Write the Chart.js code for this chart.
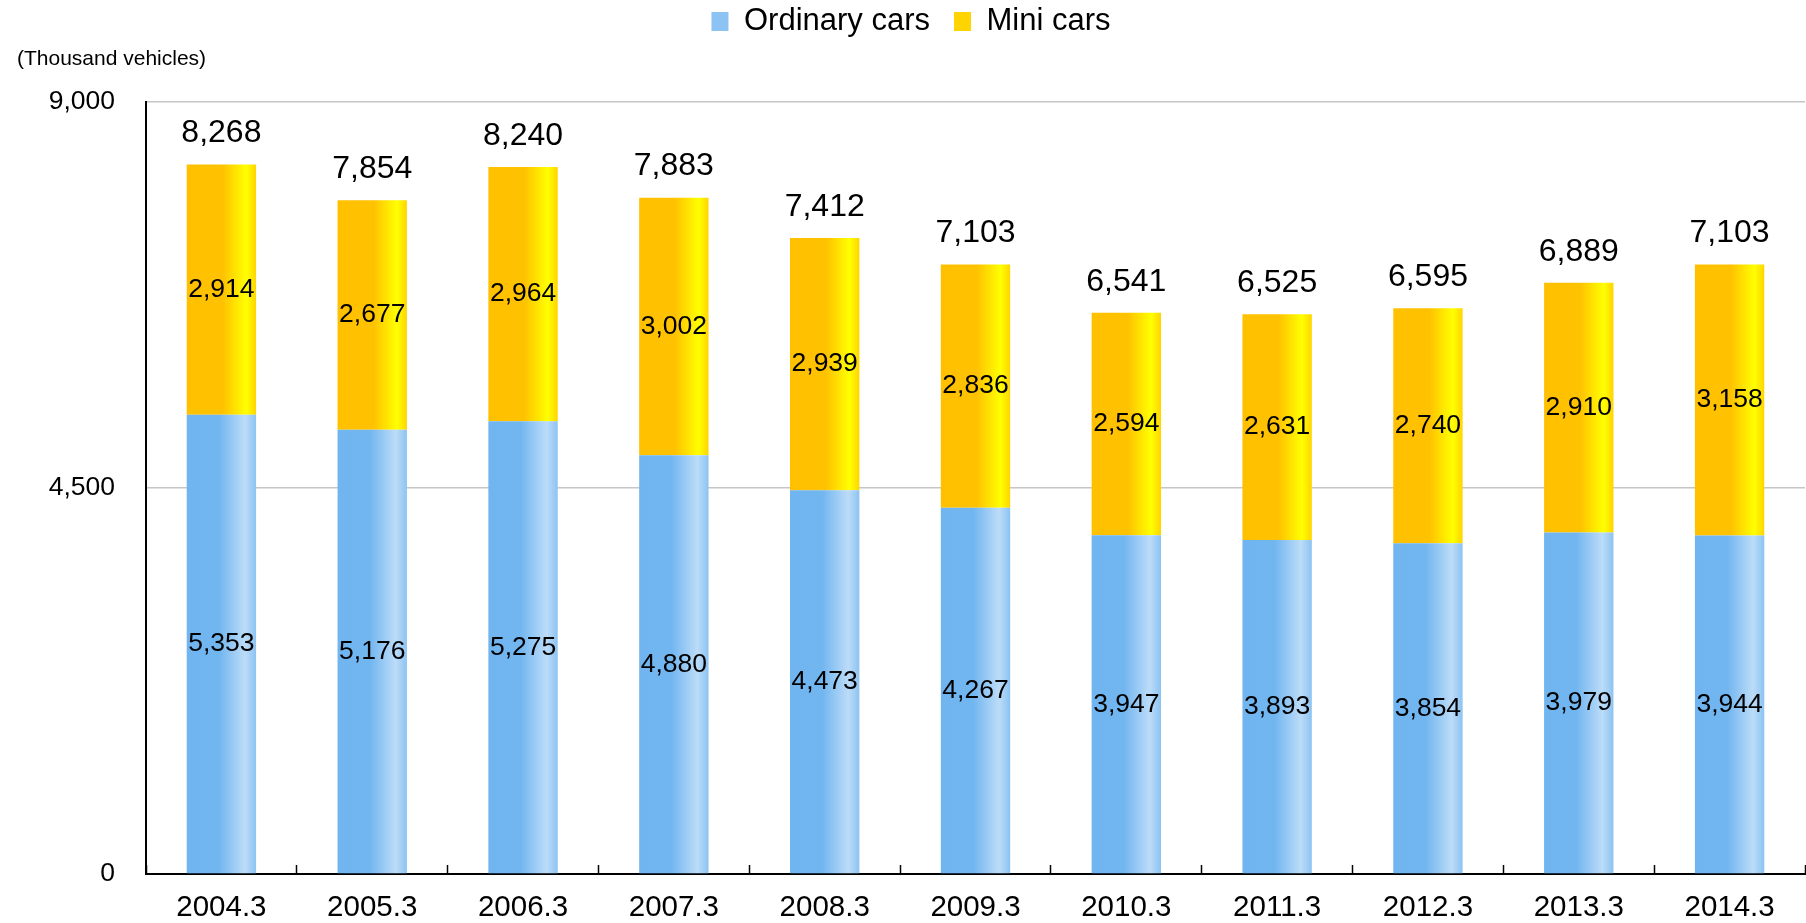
<!DOCTYPE html>
<html>
<head>
<meta charset="utf-8">
<script src="https://cdn.jsdelivr.net/npm/chart.js@4.4.1/dist/chart.umd.min.js"></script>
<style>
    html, body { margin: 0; padding: 0; background: #fff; }
    #wrap { width: 1806px; height: 923px; }
</style>
</head>
<body>
<div id="wrap"><canvas id="carsChart" width="1806" height="923"></canvas></div>
<script>
const years = ["2004.3", "2005.3", "2006.3", "2007.3", "2008.3", "2009.3", "2010.3", "2011.3", "2012.3", "2013.3", "2014.3"];
const ordinaryCars = [5353, 5176, 5275, 4880, 4473, 4267, 3947, 3893, 3854, 3979, 3944];
const miniCars = [2914, 2677, 2964, 3002, 2939, 2836, 2594, 2631, 2740, 2910, 3158];
const totals = [8268, 7854, 8240, 7883, 7412, 7103, 6541, 6525, 6595, 6889, 7103];
const yTicks = [0, 4500, 9000];

const FONT = "'Liberation Sans', Arial, sans-serif";
const BAR_PCT = 0.46;
const LEGEND_GAP = 24;

const blueStops = [[0, "#70b5f0"], [0.47, "#72b6f0"], [0.84, "#bcdcf8"], [1, "#8cc3f2"]];
const yellowStops = [[0, "#ffc000"], [0.52, "#ffc200"], [0.86, "#ffff00"], [1, "#ffd400"]];

function fmt(value) {
    return Number(value).toLocaleString("en-US");
}

function barFill(stops, base) {
    return function (context) {
        const chart = context.chart;
        const xScale = chart.scales.x;
        if (context.type !== "data" || !xScale || !chart.chartArea) {
            return base;
        }
        const center = xScale.getPixelForValue(context.dataIndex);
        const half = (xScale.width / years.length) * BAR_PCT / 2;
        const g = chart.ctx.createLinearGradient(center - half, 0, center + half, 0);
        stops.forEach(([offset, color]) => g.addColorStop(offset, color));
        return g;
    };
}

const labelsPlugin = {
    id: "barLabels",
    afterDatasetsDraw(chart) {
        const { ctx } = chart;
        ctx.save();
        ctx.textAlign = "center";
        ctx.textBaseline = "middle";
        ctx.fillStyle = "#000";

        // values inside each segment
        ctx.font = "26.5px " + FONT;
        chart.data.datasets.forEach((ds, di) => {
            chart.getDatasetMeta(di).data.forEach((bar, i) => {
                ctx.fillText(fmt(ds.data[i]), bar.x, (bar.y + bar.base) / 2);
            });
        });

        // totals above the stack
        ctx.font = "32px " + FONT;
        chart.getDatasetMeta(1).data.forEach((bar, i) => {
            ctx.fillText(fmt(totals[i]), bar.x, bar.y - 31);
        });
        ctx.restore();
    }
};

new Chart(document.getElementById("carsChart"), {
    type: "bar",
    data: {
        labels: years,
        datasets: [{
            label: "Ordinary cars",
            data: ordinaryCars,
            backgroundColor: barFill(blueStops, "#70b5f0"),
            borderWidth: 0,
            categoryPercentage: 1,
            barPercentage: BAR_PCT
        }, {
            label: "Mini cars",
            data: miniCars,
            backgroundColor: barFill(yellowStops, "#ffc000"),
            borderWidth: 0,
            categoryPercentage: 1,
            barPercentage: BAR_PCT
        }]
    },
    options: {
        responsive: false,
        animation: false,
        events: [],
        // the legend padding also sets the gap between its items, so pull it back up
        layout: { padding: { top: 6 - LEGEND_GAP, right: 1, bottom: 0, left: 17 } },
        plugins: {
            tooltip: { enabled: false },
            legend: {
                position: "top",
                labels: {
                    color: "#000",
                    font: { family: FONT, size: 31 },
                    boxWidth: 17,
                    boxHeight: 19,
                    padding: LEGEND_GAP
                }
            },
            subtitle: {
                display: true,
                text: "(Thousand vehicles)",
                position: "top",
                align: "start",
                weight: 500,
                color: "#000",
                font: { family: FONT, size: 21, weight: "normal" },
                padding: { top: 0, bottom: 29.5 }
            }
        },
        scales: {
            x: {
                stacked: true,
                afterFit(scale) { scale.height = 49; },
                grid: {
                    offset: true,
                    drawOnChartArea: false,
                    tickLength: -9,
                    tickColor: "#000",
                    tickWidth: 1.5
                },
                border: { color: "#000", width: 2 },
                ticks: {
                    color: "#000",
                    font: { family: FONT, size: 29.5 },
                    padding: 25,
                    maxRotation: 0
                }
            },
            y: {
                stacked: true,
                min: 0,
                max: 9000,
                afterFit(scale) { scale.width = 129; },
                afterBuildTicks(scale) { scale.ticks = yTicks.map(v => ({ value: v })); },
                grid: { color: "#c6c6c6", lineWidth: 1.5, drawTicks: false },
                border: { color: "#000", width: 2 },
                ticks: {
                    color: "#000",
                    font: { family: FONT, size: 26.5 },
                    padding: 31,
                    callback(value) { return fmt(value); }
                }
            }
        }
    },
    plugins: [labelsPlugin]
});
</script>
</body>
</html>
